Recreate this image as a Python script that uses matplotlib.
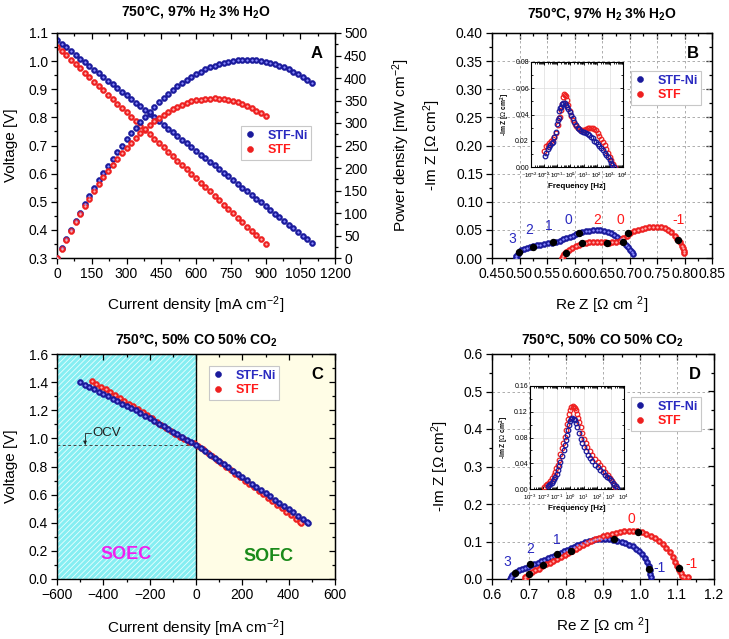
import numpy as np
import matplotlib
matplotlib.use('Agg')
import matplotlib.pyplot as plt
from matplotlib.ticker import MultipleLocator, LogLocator, NullFormatter, FormatStrFormatter

plt.rcParams['font.family'] = ['Liberation Sans', 'DejaVu Sans']
plt.rcParams['mathtext.fontset'] = 'custom'
plt.rcParams['mathtext.rm'] = 'Liberation Sans'
plt.rcParams['mathtext.it'] = 'Liberation Sans:italic'
plt.rcParams['mathtext.bf'] = 'Liberation Sans:bold'
plt.rcParams['hatch.linewidth'] = 0.6

# ---------------- Panel A data ----------------
a_ni_current = [0, 20, 40, 60, 80, 100, 120, 140, 160, 180, 200, 220, 240, 260, 280, 300, 320, 340, 360, 380,
                400, 420, 440, 460, 480, 500, 520, 540, 560, 580, 600, 620, 640, 660, 680, 700, 720, 740, 760, 780,
                800, 820, 840, 860, 880, 900, 920, 940, 960, 980, 1000, 1020, 1040, 1060, 1080, 1100]
a_ni_voltage = [1.075, 1.062, 1.049, 1.036, 1.023, 1.009, 0.996, 0.983, 0.970, 0.957, 0.944, 0.931, 0.918, 0.904,
                0.891, 0.878, 0.865, 0.852, 0.839, 0.826, 0.813, 0.800, 0.786, 0.773, 0.760, 0.747, 0.734, 0.721,
                0.708, 0.695, 0.681, 0.668, 0.655, 0.642, 0.629, 0.616, 0.603, 0.590, 0.576, 0.563, 0.550, 0.537,
                0.524, 0.511, 0.498, 0.485, 0.471, 0.458, 0.445, 0.432, 0.419, 0.406, 0.393, 0.380, 0.366, 0.353]
a_ni_power = [0, 21.2, 42.0, 62.2, 81.8, 100.9, 119.5, 137.6, 155.2, 172.3, 188.8, 204.8, 220.3, 235.0, 249.5,
              263.4, 276.8, 289.7, 302.0, 313.9, 325.2, 336.0, 345.8, 355.6, 364.8, 373.5, 381.7, 389.3, 396.5,
              403.1, 408.6, 414.2, 419.2, 423.7, 427.7, 431.2, 434.2, 436.6, 437.8, 439.1, 440.0, 440.3, 440.2,
              439.5, 438.2, 436.5, 433.3, 430.5, 427.2, 423.4, 419.0, 414.1, 408.7, 402.8, 395.3, 388.3]
a_stf_current = [0, 20, 40, 60, 80, 100, 120, 140, 160, 180, 200, 220, 240, 260, 280, 300, 320, 340, 360, 380,
                 400, 420, 440, 460, 480, 500, 520, 540, 560, 580, 600, 620, 640, 660, 680, 700, 720, 740, 760, 780,
                 800, 820, 840, 860, 880, 900]
a_stf_voltage = [1.052, 1.036, 1.021, 1.005, 0.990, 0.974, 0.958, 0.943, 0.927, 0.912, 0.896, 0.880, 0.865, 0.849,
                 0.834, 0.818, 0.802, 0.787, 0.771, 0.756, 0.740, 0.724, 0.709, 0.693, 0.678, 0.662, 0.646, 0.631,
                 0.615, 0.600, 0.584, 0.568, 0.553, 0.537, 0.522, 0.506, 0.490, 0.475, 0.459, 0.444, 0.428, 0.412,
                 0.397, 0.381, 0.366, 0.350]
a_stf_power = [0, 20.7, 40.8, 60.3, 79.2, 97.4, 115.0, 132.0, 148.3, 164.2, 179.2, 193.6, 207.6, 220.7, 233.5,
               245.4, 256.6, 267.6, 277.6, 287.3, 296.0, 304.1, 312.0, 318.8, 325.4, 331.0, 335.9, 340.7, 344.4,
               348.0, 350.4, 352.2, 353.9, 354.4, 355.0, 354.2, 352.8, 351.5, 348.8, 346.3, 342.4, 337.8, 333.5,
               327.7, 322.1, 315.0]

# ---------------- Panel B data (Nyquist, H2/H2O) ----------------
b_ni_re = [0.4935, 0.4945, 0.4965, 0.4990, 0.5030, 0.5080, 0.5130, 0.5190, 0.5250, 0.5310, 0.5380, 0.5450,
           0.5520, 0.5590, 0.5660, 0.5730, 0.5790, 0.5850, 0.5910, 0.5970, 0.6030, 0.6080, 0.6140, 0.6200,
           0.6260, 0.6330, 0.6400, 0.6470, 0.6540, 0.6600, 0.6660, 0.6720, 0.6780, 0.6840, 0.6890, 0.6940,
           0.6980, 0.7010, 0.7040, 0.7060]
b_ni_im = [0.000, 0.004, 0.008, 0.011, 0.014, 0.016, 0.018, 0.0195, 0.021, 0.0225, 0.024, 0.025, 0.026, 0.0275,
           0.029, 0.031, 0.033, 0.0355, 0.038, 0.040, 0.0425, 0.0445, 0.046, 0.0475, 0.0485, 0.0495, 0.050,
           0.0495, 0.048, 0.0465, 0.044, 0.041, 0.037, 0.033, 0.029, 0.024, 0.019, 0.014, 0.010, 0.007]
b_stf_re = [0.5770, 0.5785, 0.5810, 0.5850, 0.5900, 0.5960, 0.6020, 0.6080, 0.6140, 0.6200, 0.6270, 0.6340,
            0.6410, 0.6480, 0.6550, 0.6620, 0.6690, 0.6760, 0.6830, 0.6890, 0.6950, 0.7010, 0.7080, 0.7150,
            0.7220, 0.7290, 0.7360, 0.7430, 0.7500, 0.7570, 0.7640, 0.7700, 0.7760, 0.7820, 0.7870, 0.7910,
            0.7950, 0.7975, 0.7990, 0.7995]
b_stf_im = [0.000, 0.004, 0.007, 0.010, 0.014, 0.018, 0.021, 0.024, 0.026, 0.0275, 0.0285, 0.029, 0.0293, 0.029,
            0.028, 0.0275, 0.028, 0.029, 0.031, 0.035, 0.040, 0.045, 0.048, 0.050, 0.052, 0.0535, 0.0545, 0.055,
            0.055, 0.0545, 0.053, 0.050, 0.046, 0.040, 0.034, 0.028, 0.022, 0.017, 0.013, 0.009]
b_decade_re = [0.4996, 0.5251, 0.5615, 0.6087, 0.6876, 0.5845, 0.6130, 0.6585, 0.6980, 0.7887]
b_decade_im = [0.0101, 0.0201, 0.0279, 0.0439, 0.0290, 0.0095, 0.0260, 0.0273, 0.0440, 0.0320]
b_ni_labels = ['3', '2', '1', '0']
b_ni_label_re = [0.4876, 0.5185, 0.553, 0.588]
b_ni_label_im = [0.034, 0.049, 0.057, 0.068]
b_stf_labels = ['2', '0', '-1']
b_stf_label_re = [0.642, 0.683, 0.789]
b_stf_label_im = [0.068, 0.068, 0.068]

# inset B (Bode)
ib_stf_logf = [-1.98, -1.85, -1.72, -1.6, -1.47, -1.35, -1.22, -1.09, -0.96, -0.89, -0.8, -0.71, -0.62, -0.55,
               -0.48, -0.4, -0.33, -0.25, -0.17, -0.05, 0.08, 0.2, 0.33, 0.45, 0.58, 0.7, 0.83, 0.95, 1.08, 1.2,
               1.33, 1.45, 1.58, 1.7, 1.83, 1.96, 2.08, 2.2, 2.33, 2.47, 2.6, 2.73, 2.86, 3.0, 3.12, 3.23, 3.36]
ib_stf_im = [0.0123, 0.0159, 0.017, 0.0185, 0.020, 0.021, 0.023, 0.026, 0.032, 0.0377, 0.038, 0.0436, 0.048,
             0.053, 0.0555, 0.055, 0.054, 0.051, 0.047, 0.043, 0.039, 0.036, 0.033, 0.031, 0.0295, 0.0285, 0.028,
             0.028, 0.0285, 0.029, 0.0295, 0.0297, 0.0297, 0.0295, 0.029, 0.028, 0.026, 0.024, 0.0215, 0.019,
             0.0165, 0.014, 0.011, 0.0077, 0.005, 0.0026, 0.0]
ib_ni_logf = [-1.93, -1.85, -1.73, -1.62, -1.52, -1.43, -1.35, -1.22, -1.1, -1.03, -0.96, -0.9, -0.84, -0.77,
              -0.71, -0.62, -0.53, -0.4, -0.32, -0.25, -0.16, -0.07, 0.05, 0.18, 0.3, 0.43, 0.56, 0.69, 0.82, 0.95,
              1.07, 1.2, 1.33, 1.45, 1.58, 1.7, 1.83, 1.96, 2.08, 2.2, 2.33, 2.46, 2.6, 2.73, 2.86, 2.98, 3.1, 3.2,
              3.3]
ib_ni_im = [0.0082, 0.0103, 0.014, 0.0155, 0.0167, 0.018, 0.019, 0.023, 0.027, 0.033, 0.036, 0.037, 0.043,
            0.045, 0.046, 0.048, 0.049, 0.0487, 0.0475, 0.046, 0.044, 0.042, 0.0395, 0.037, 0.0345, 0.032, 0.030,
            0.0287, 0.0278, 0.027, 0.027, 0.026, 0.025, 0.0244, 0.0232, 0.0218, 0.020, 0.0188, 0.0174, 0.016,
            0.0145, 0.0128, 0.011, 0.009, 0.0077, 0.0055, 0.003, 0.0015, 0.0]

# ---------------- Panel C data (CO/CO2) ----------------
c_ni_current = [-500, -480, -460, -440, -420, -400, -380, -360, -340, -320, -300, -280, -260, -240, -220, -200,
                -180, -160, -140, -120, -100, -80, -60, -40, -20, 0, 20, 40, 60, 80, 100, 120, 140, 160, 180, 200,
                220, 240, 260, 280, 300, 320, 340, 360, 380, 400, 420, 440, 460, 480, 485]
c_ni_voltage = [1.398, 1.381, 1.365, 1.348, 1.332, 1.315, 1.298, 1.282, 1.265, 1.248, 1.232, 1.215, 1.199, 1.181,
                1.162, 1.143, 1.124, 1.105, 1.086, 1.067, 1.048, 1.029, 1.010, 0.991, 0.972, 0.953, 0.930, 0.907,
                0.885, 0.862, 0.839, 0.816, 0.793, 0.771, 0.748, 0.725, 0.702, 0.679, 0.657, 0.634, 0.611, 0.588,
                0.565, 0.543, 0.520, 0.497, 0.474, 0.451, 0.429, 0.406, 0.400]
c_stf_current = [-450, -430, -410, -390, -370, -350, -330, -310, -290, -270, -250, -230, -210, -190, -170, -150,
                 -130, -110, -90, -70, -50, -30, -10, 10, 30, 50, 70, 90, 110, 130, 150, 170, 190, 210, 230, 250,
                 270, 290, 310, 330, 350, 370, 390, 410, 430, 450, 455]
c_stf_voltage = [1.405, 1.387, 1.368, 1.350, 1.331, 1.310, 1.290, 1.269, 1.248, 1.228, 1.207, 1.185, 1.163, 1.142,
                 1.120, 1.098, 1.076, 1.054, 1.033, 1.013, 0.994, 0.976, 0.964, 0.946, 0.921, 0.897, 0.872, 0.848,
                 0.823, 0.798, 0.774, 0.749, 0.724, 0.700, 0.675, 0.651, 0.626, 0.601, 0.577, 0.552, 0.528, 0.503,
                 0.478, 0.454, 0.429, 0.405, 0.398]
c_ocv = 0.95

# ---------------- Panel D data (Nyquist, CO/CO2) ----------------
d_ni_re = [0.6495, 0.6510, 0.6550, 0.6600, 0.6660, 0.6730, 0.6800, 0.6880, 0.6960, 0.7050, 0.7140, 0.7230,
           0.7320, 0.7410, 0.7500, 0.7590, 0.7680, 0.7770, 0.7860, 0.7950, 0.8040, 0.8130, 0.8220, 0.8310,
           0.8410, 0.8510, 0.8620, 0.8730, 0.8840, 0.8950, 0.9060, 0.9170, 0.9280, 0.9390, 0.9500, 0.9600,
           0.9700, 0.9800, 0.9890, 0.9980, 1.0060, 1.0130, 1.0190, 1.0230, 1.0260, 1.0280, 1.0290]
d_ni_im = [0.000, 0.005, 0.010, 0.014, 0.018, 0.023, 0.027, 0.030, 0.033, 0.037, 0.041, 0.044, 0.048, 0.052,
           0.055, 0.059, 0.062, 0.066, 0.070, 0.074, 0.078, 0.082, 0.086, 0.090, 0.094, 0.098, 0.101, 0.104,
           0.106, 0.107, 0.107, 0.106, 0.104, 0.101, 0.098, 0.095, 0.091, 0.087, 0.081, 0.075, 0.066, 0.057,
           0.046, 0.035, 0.024, 0.014, 0.006]
d_stf_re = [0.6880, 0.6900, 0.6940, 0.7000, 0.7080, 0.7170, 0.7260, 0.7360, 0.7460, 0.7560, 0.7660, 0.7760,
            0.7860, 0.7960, 0.8060, 0.8160, 0.8260, 0.8360, 0.8460, 0.8570, 0.8680, 0.8790, 0.8900, 0.9010,
            0.9120, 0.9230, 0.9340, 0.9450, 0.9570, 0.9690, 0.9810, 0.9930, 1.0050, 1.0170, 1.0290, 1.0400,
            1.0510, 1.0610, 1.0710, 1.0800, 1.0880, 1.0950, 1.1010, 1.1060, 1.1100, 1.1130, 1.1200, 1.1300]
d_stf_im = [0.000, 0.005, 0.009, 0.013, 0.018, 0.023, 0.028, 0.034, 0.039, 0.044, 0.049, 0.054, 0.059, 0.064,
            0.070, 0.075, 0.081, 0.086, 0.091, 0.096, 0.101, 0.106, 0.110, 0.114, 0.118, 0.121, 0.124, 0.126,
            0.127, 0.128, 0.128, 0.127, 0.125, 0.121, 0.116, 0.110, 0.102, 0.093, 0.083, 0.071, 0.059, 0.046,
            0.034, 0.024, 0.015, 0.008, 0.005, 0.005]
d_decade_re = [0.662, 0.7027, 0.7748, 0.9297, 1.0252, 0.701, 0.737, 0.8127, 0.9954, 1.1063]
d_decade_im = [0.015, 0.039, 0.066, 0.106, 0.0267, 0.0125, 0.037, 0.0747, 0.126, 0.0285]
d_ni_labels = ['3', '2', '1', '-1']
d_ni_label_re = [0.642, 0.703, 0.775, 1.054]
d_ni_label_im = [0.045, 0.081, 0.105, 0.030]
d_stf_labels = ['0', '-1']
d_stf_label_re = [0.978, 1.140]
d_stf_label_im = [0.159, 0.039]

# inset D (Bode)
id_stf_logf = [-1.94, -1.84, -1.74, -1.62, -1.49, -1.37, -1.24, -1.14, -1.04, -0.95, -0.86, -0.74, -0.61, -0.52,
               -0.43, -0.35, -0.28, -0.19, -0.1, -0.02, 0.07, 0.17, 0.27, 0.35, 0.43, 0.5, 0.58, 0.68, 0.78, 0.9,
               1.03, 1.15, 1.28, 1.46, 1.65, 1.85, 2.04, 2.23, 2.42, 2.6, 2.79, 2.95, 3.12, 3.24, 3.35]
id_stf_im = [0.003, 0.006, 0.0082, 0.010, 0.013, 0.017, 0.022, 0.027, 0.032, 0.038, 0.045, 0.054, 0.063, 0.072,
             0.081, 0.091, 0.101, 0.109, 0.117, 0.123, 0.127, 0.129, 0.128, 0.126, 0.122, 0.117, 0.111, 0.104,
             0.096, 0.087, 0.078, 0.071, 0.065, 0.059, 0.053, 0.047, 0.042, 0.037, 0.032, 0.027, 0.022, 0.017,
             0.012, 0.007, 0.003]
id_ni_logf = [-1.69, -1.59, -1.49, -1.39, -1.29, -1.2, -1.11, -1.02, -0.93, -0.83, -0.73, -0.6, -0.48, -0.4,
              -0.33, -0.25, -0.18, -0.1, -0.03, 0.06, 0.15, 0.24, 0.32, 0.42, 0.53, 0.65, 0.78, 0.9, 1.03, 1.18,
              1.33, 1.49, 1.65, 1.84, 2.03, 2.21, 2.4, 2.56, 2.73, 2.88, 3.03, 3.15, 3.28, 3.38, 3.45]
id_ni_im = [0.005, 0.0065, 0.0077, 0.0095, 0.0118, 0.015, 0.019, 0.024, 0.030, 0.036, 0.042, 0.051, 0.061, 0.068,
            0.076, 0.084, 0.092, 0.099, 0.105, 0.109, 0.110, 0.109, 0.107, 0.102, 0.096, 0.087, 0.078, 0.071,
            0.065, 0.059, 0.053, 0.048, 0.043, 0.038, 0.034, 0.030, 0.026, 0.0225, 0.019, 0.0165, 0.0138, 0.010,
            0.0066, 0.004, 0.0015]

series_names = ['STF-Ni', 'STF']

# ---------------- styling ----------------
BLUE_D, BLUE_L, BLUE_T = '#1a1a9c', '#8f8fff', '#2a2ac0'
RED_D, RED_L, RED_T = '#ee2020', '#ffb0b0', '#ff1a1a'
MS = 4.3
TICK_FS = 10
LABEL_FS = 11

TITLE_H2 = r'750°C, 97% H$_\mathbf{2}$ 3% H$_\mathbf{2}$O'
TITLE_CO = r'750°C, 50% CO 50% CO$_\mathbf{2}$'

fig = plt.figure(figsize=(7.29, 6.39), dpi=100)
W, H = 729.0, 639.0


def rect(x0, x1, ytop, ybot):
    return [x0 / W, 1 - ybot / H, (x1 - x0) / W, (ybot - ytop) / H]


def balls(ax, x, y, dark, light, ms=MS, z=3):
    h, = ax.plot(x, y, 'o', ms=ms, mfc=dark, mec=dark, mew=0.4, ls='none', zorder=z)
    ax.plot(x, y, 'o', ms=ms * 0.38, mfc=light, mec='none', ls='none', zorder=z + 0.1)
    return h


def frame(ax, xmaj, xmin, ymaj, ymin, right=True, fs=TICK_FS):
    ax.xaxis.set_major_locator(MultipleLocator(xmaj))
    ax.xaxis.set_minor_locator(MultipleLocator(xmin))
    ax.yaxis.set_major_locator(MultipleLocator(ymaj))
    ax.yaxis.set_minor_locator(MultipleLocator(ymin))
    ax.tick_params(which='both', direction='out', top=False, right=False, labelsize=fs, width=0.9, pad=2)
    ax.tick_params(which='major', length=4.5)
    ax.tick_params(which='minor', length=2.5)
    for s in ax.spines.values():
        s.set_linewidth(1.0)
    sx = ax.secondary_xaxis('top')
    sx.xaxis.set_major_locator(MultipleLocator(xmaj))
    sx.xaxis.set_minor_locator(MultipleLocator(xmin))
    sx.tick_params(which='both', direction='in', labeltop=False, width=0.9)
    sx.tick_params(which='major', length=4.5)
    sx.tick_params(which='minor', length=2.5)
    if right:
        sy = ax.secondary_yaxis('right')
        sy.yaxis.set_major_locator(MultipleLocator(ymaj))
        sy.yaxis.set_minor_locator(MultipleLocator(ymin))
        sy.tick_params(which='both', direction='in', labelright=False, width=0.9)
        sy.tick_params(which='major', length=4.5)
        sy.tick_params(which='minor', length=2.5)


def legend(ax, handles, x, ytop):
    leg = ax.legend(handles, series_names, loc='upper left', bbox_to_anchor=(x, ytop), frameon=True,
                    fancybox=False, edgecolor='#c8c8c8', framealpha=1, prop={'weight': 'bold', 'size': 9},
                    handlelength=0.9, handletextpad=0.9, borderpad=0.3, labelspacing=0.2, borderaxespad=0)
    leg.get_frame().set_linewidth(0.8)
    for t, c in zip(leg.get_texts(), [BLUE_T, RED_T]):
        t.set_color(c)
    leg.set_zorder(20)
    return leg


def inset(rc, ni_logf, ni_im, stf_logf, stf_im, ytop, ystep):
    ia = fig.add_axes(rc)
    ia.set_zorder(15)
    ia.set_facecolor('white')
    ia.plot(10 ** np.array(stf_logf), stf_im, 'o', ms=3.3, mfc='none', mec=RED_D, mew=0.9, ls='none', zorder=3)
    ia.plot(10 ** np.array(ni_logf), ni_im, 'o', ms=3.3, mfc='none', mec=BLUE_D, mew=0.9, ls='none', zorder=4)
    ia.set_xscale('log')
    ia.set_xlim(1e-3, 1e4)
    ia.set_ylim(0, ytop)
    ia.xaxis.set_major_locator(LogLocator(base=10, numticks=20))
    ia.xaxis.set_minor_locator(LogLocator(base=10, subs=np.arange(2, 10), numticks=20))
    ia.xaxis.set_minor_formatter(NullFormatter())
    ia.yaxis.set_major_locator(MultipleLocator(ystep))
    ia.yaxis.set_minor_locator(MultipleLocator(ystep / 2))
    ia.yaxis.set_major_formatter(FormatStrFormatter('%.2f'))
    ia.tick_params(which='both', direction='in', top=True, right=True, labelsize=5, pad=1.5, width=0.6)
    ia.tick_params(axis='x', labelsize=4.4, pad=3.0)
    ia.tick_params(which='major', length=2.2)
    ia.tick_params(which='minor', length=1.2)
    ia.grid(True, which='major', color='#dddddd', lw=0.5)
    ia.set_axisbelow(True)
    for s in ia.spines.values():
        s.set_linewidth(0.8)
    ia.set_xlabel('Frequency [Hz]', fontsize=5.8, fontweight='bold', labelpad=1.5)
    ia.set_ylabel(r'-Im Z [$\Omega$ cm$^\mathbf{2}$]', fontsize=4.8, fontweight='bold', labelpad=2)
    return ia


# ================= Panel A =================
axA = fig.add_axes(rect(57, 335, 33, 258))
axA.set_xlim(0, 1200)
axA.set_ylim(0.3, 1.1)
frame(axA, 150, 75, 0.1, 0.05, right=False)
axA.yaxis.set_major_formatter(FormatStrFormatter('%.1f'))
balls(axA, a_ni_current, a_ni_voltage, BLUE_D, BLUE_L)
balls(axA, a_stf_current, a_stf_voltage, RED_D, RED_L)
axA.set_xlabel(r'Current density [mA cm$^{-2}$]', fontsize=LABEL_FS)
axA.set_ylabel('Voltage [V]', fontsize=LABEL_FS)
axA.xaxis.set_label_coords(0.5, -0.162)
axA.yaxis.set_label_coords(-0.142, 0.5)
axA2 = axA.twinx()
axA2.set_ylim(0, 500)
axA2.yaxis.set_major_locator(MultipleLocator(50))
axA2.yaxis.set_minor_locator(MultipleLocator(25))
axA2.tick_params(which='both', direction='out', labelsize=TICK_FS, width=0.9, pad=2)
axA2.tick_params(which='major', length=4.5)
axA2.tick_params(which='minor', length=2.5)
hA1 = balls(axA2, a_ni_current, a_ni_power, BLUE_D, BLUE_L)
hA2 = balls(axA2, a_stf_current, a_stf_power, RED_D, RED_L)
axA2.set_ylabel(r'Power density [mW cm$^{-2}$]', fontsize=LABEL_FS)
axA2.yaxis.set_label_coords(1.198, 0.5)
legend(axA2, [hA1, hA2], 0.662, 0.587)
axA2.text(0.935, 0.907, 'A', transform=axA2.transAxes, fontsize=12, fontweight='bold', ha='center', va='center')
fig.text(196 / W, 1 - 12 / H, TITLE_H2, ha='center', va='center', fontsize=10, fontweight='bold')

# ================= Panel B =================
axB = fig.add_axes(rect(492, 712, 33, 258))
axB.set_xlim(0.45, 0.85)
axB.set_ylim(0, 0.40)
frame(axB, 0.05, 0.025, 0.05, 0.025)
axB.xaxis.set_major_formatter(FormatStrFormatter('%.2f'))
axB.yaxis.set_major_formatter(FormatStrFormatter('%.2f'))
axB.grid(True, which='major', ls=(0, (3, 3)), color='#a0a0a0', lw=0.6)
hB1 = balls(axB, b_ni_re, b_ni_im, BLUE_D, BLUE_L)
hB2 = balls(axB, b_stf_re, b_stf_im, RED_D, RED_L)
axB.plot(b_decade_re, b_decade_im, 'o', ms=MS, color='black', ls='none', zorder=5)
for s, x, y in zip(b_ni_labels, b_ni_label_re, b_ni_label_im):
    axB.text(x, y, s, color=BLUE_T, fontsize=10, ha='center', va='center')
for s, x, y in zip(b_stf_labels, b_stf_label_re, b_stf_label_im):
    axB.text(x, y, s, color=RED_T, fontsize=10, ha='center', va='center')
axB.set_xlabel(r'Re Z [$\Omega$ cm $^2$]', fontsize=LABEL_FS)
axB.set_ylabel(r'-Im Z [$\Omega$ cm$^2$]', fontsize=LABEL_FS)
axB.xaxis.set_label_coords(0.5, -0.162)
axB.yaxis.set_label_coords(-0.222, 0.5)
legend(axB, [hB1, hB2], 0.632, 0.831)
axB.text(0.914, 0.907, 'B', transform=axB.transAxes, fontsize=12, fontweight='bold', ha='center', va='center')
fig.text(602 / W, 1 - 13 / H, TITLE_H2, ha='center', va='center', fontsize=10, fontweight='bold')
inset(rect(531, 623, 62, 167), ib_ni_logf, ib_ni_im, ib_stf_logf, ib_stf_im, 0.08, 0.02)

# ================= Panel C =================
axC = fig.add_axes(rect(57, 335, 354, 579))
axC.set_xlim(-600, 600)
axC.set_ylim(0, 1.6)
frame(axC, 200, 100, 0.2, 0.1)
axC.yaxis.set_major_formatter(FormatStrFormatter('%.1f'))
axC.axvspan(-600, 0, facecolor='#86eef2', edgecolor='#e8ffff', hatch='//////', lw=0, zorder=0)
axC.axvspan(0, 600, facecolor='#fffde6', edgecolor='none', lw=0, zorder=0)
axC.axvline(0, color='black', lw=1.0, zorder=1)
axC.plot([-600, 0], [c_ocv, c_ocv], ls=(0, (3, 2.5)), color='#444444', lw=0.7, zorder=1)
hC1 = balls(axC, c_ni_current, c_ni_voltage, BLUE_D, BLUE_L, z=4)
hC2 = balls(axC, c_stf_current, c_stf_voltage, RED_D, RED_L, z=3)
axC.text(-449, 1.04, 'OCV', fontsize=9.5, ha='left', va='center', color='#222222')
axC.annotate('', xy=(-479, c_ocv + 0.005), xytext=(-455, 1.04),
             arrowprops=dict(arrowstyle='-|>', connectionstyle='angle,angleA=180,angleB=90,rad=0',
                             color='#222222', lw=0.6, shrinkA=0, shrinkB=0, mutation_scale=5))
axC.text(-302, 0.171, 'SOEC', color='#ee22ee', fontsize=13, fontweight='bold', ha='center', va='center')
axC.text(315, 0.159, 'SOFC', color='#1a8a1a', fontsize=13, fontweight='bold', ha='center', va='center')
axC.set_xlabel(r'Current density [mA cm$^{-2}$]', fontsize=LABEL_FS)
axC.set_ylabel('Voltage [V]', fontsize=LABEL_FS)
axC.xaxis.set_label_coords(0.5, -0.17)
axC.yaxis.set_label_coords(-0.142, 0.5)
legend(axC, [hC1, hC2], 0.547, 0.947)
axC.text(0.935, 0.907, 'C', transform=axC.transAxes, fontsize=12, fontweight='bold', ha='center', va='center')
fig.text(196 / W, 1 - 339 / H, TITLE_CO, ha='center', va='center', fontsize=10, fontweight='bold')

# ================= Panel D =================
axD = fig.add_axes(rect(492, 714, 354, 579))
axD.set_xlim(0.6, 1.2)
axD.set_ylim(0, 0.6)
frame(axD, 0.1, 0.05, 0.1, 0.05)
axD.xaxis.set_major_formatter(FormatStrFormatter('%.1f'))
axD.yaxis.set_major_formatter(FormatStrFormatter('%.1f'))
axD.grid(True, which='major', ls=(0, (3, 3)), color='#a0a0a0', lw=0.6)
hD1 = balls(axD, d_ni_re, d_ni_im, BLUE_D, BLUE_L)
hD2 = balls(axD, d_stf_re, d_stf_im, RED_D, RED_L)
axD.plot(d_decade_re, d_decade_im, 'o', ms=MS, color='black', ls='none', zorder=5)
for s, x, y in zip(d_ni_labels, d_ni_label_re, d_ni_label_im):
    axD.text(x, y, s, color=BLUE_T, fontsize=10, ha='center', va='center')
for s, x, y in zip(d_stf_labels, d_stf_label_re, d_stf_label_im):
    axD.text(x, y, s, color=RED_T, fontsize=10, ha='center', va='center')
axD.set_xlabel(r'Re Z [$\Omega$ cm $^2$]', fontsize=LABEL_FS)
axD.set_ylabel(r'-Im Z [$\Omega$ cm$^2$]', fontsize=LABEL_FS)
axD.xaxis.set_label_coords(0.5, -0.162)
axD.yaxis.set_label_coords(-0.185, 0.5)
legend(axD, [hD1, hD2], 0.626, 0.809)
axD.text(0.914, 0.907, 'D', transform=axD.transAxes, fontsize=12, fontweight='bold', ha='center', va='center')
fig.text(602 / W, 1 - 340 / H, TITLE_CO, ha='center', va='center', fontsize=10, fontweight='bold')
inset(rect(530, 624, 386, 489), id_ni_logf, id_ni_im, id_stf_logf, id_stf_im, 0.16, 0.04)

fig.savefig('out.png', dpi=100)
